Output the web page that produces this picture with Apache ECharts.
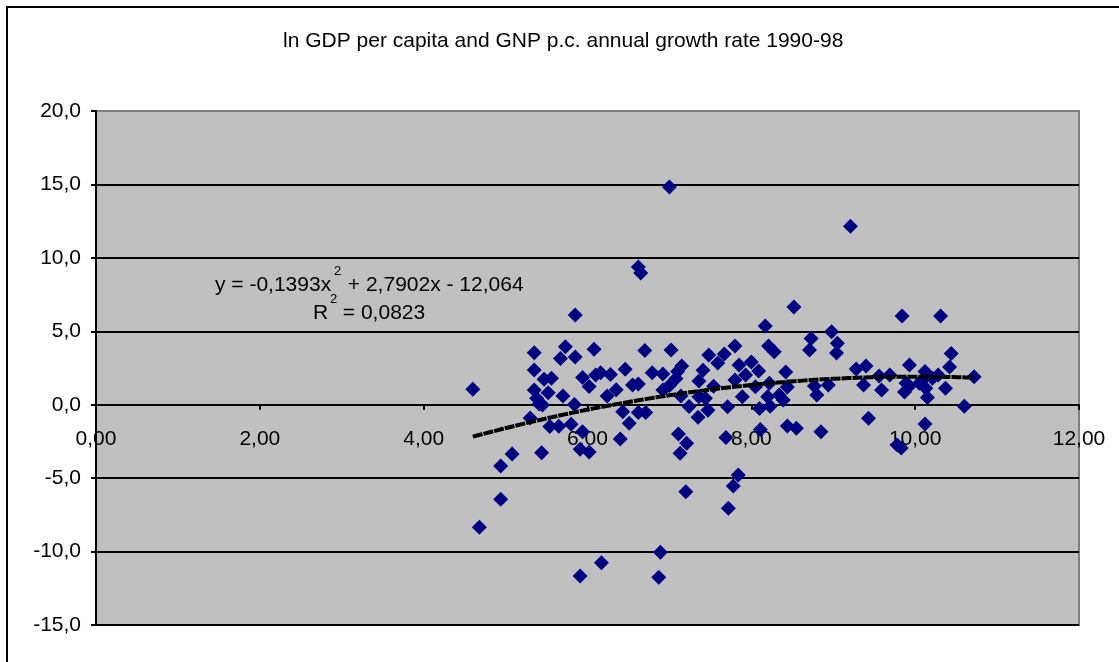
<!DOCTYPE html>
<html>
<head>
<meta charset="utf-8">
<title>ln GDP per capita and GNP p.c. annual growth rate 1990-98</title>
<script src="https://cdn.jsdelivr.net/npm/echarts@6/dist/echarts.min.js"></script>
<style>
  html, body { margin: 0; padding: 0; background: #fff; }
  #main { width: 1119px; height: 662px; }
</style>
</head>
<body>
<div id="main"></div>
<script>
// ln GDP per capita (x) and GNP p.c. annual growth 1990-98 (y)
var lnGdp = [
  4.60, 4.68, 4.94, 4.94, 5.08, 5.44, 5.91, 6.02, 6.40, 5.91,
  6.17, 6.89, 6.87, 7.13, 7.21, 7.20, 7.84, 7.78, 7.72, 7.69,
  7.00, 9.21, 6.62, 6.65, 9.84, 10.31, 8.52, 8.17, 8.98, 8.73,
  9.05, 8.71, 9.04, 8.21, 8.28, 7.80, 7.48, 7.67, 7.59, 7.41,
  7.15, 7.85, 8.00, 8.09, 8.42, 7.93, 7.80, 7.36, 7.54, 8.05,
  8.22, 8.44, 8.34, 8.20, 8.39, 7.89, 8.10, 8.23, 7.71, 7.47,
  7.24, 7.35, 7.14, 8.11, 8.44, 8.55, 8.85, 8.80, 8.77, 8.94,
  9.28, 9.40, 9.37, 9.56, 9.59, 9.69, 9.43, 9.93, 9.87, 9.93,
  10.12, 10.09, 10.28, 10.15, 10.12, 10.44, 10.42, 10.37, 10.72, 10.60,
  9.78, 9.83, 9.89, 10.05, 10.13, 10.21, 5.85, 5.35, 5.73, 5.67,
  5.85, 6.08, 5.35, 5.47, 5.56, 5.35, 5.52, 5.38, 5.45, 5.70,
  5.94, 6.02, 6.10, 5.84, 5.30, 5.54, 5.65, 5.80, 5.94, 5.41,
  6.16, 6.28, 6.46, 6.79, 6.92, 7.10, 7.08, 6.70, 7.02, 6.55,
  6.62, 6.35, 6.24, 6.92, 7.00, 6.43, 6.62, 6.71, 6.51, 7.11,
  7.36, 7.44
];
var growth = [
  1.05, -8.35, -6.44, -4.17, -3.36, -3.27, -3.04, -3.22, -2.33, -11.66,
  -10.76, -10.05, -11.75, -3.31, -2.63, -5.92, -4.79, -5.53, -7.05, -2.23,
  14.82, 12.16, 9.37, 8.97, 6.04, 6.04, 6.65, 5.36, 4.97, 4.51,
  4.18, 3.72, 3.52, 4.00, 3.61, 4.00, 3.38, 3.45, 2.84, 2.34,
  2.63, 2.70, 2.91, 2.29, 2.23, 2.02, 1.68, 1.61, 1.25, 1.23,
  1.46, 1.20, 0.66, 0.54, 0.32, 0.54, -0.25, -0.11, -0.14, -0.38,
  -0.12, -0.86, 0.59, -1.69, -1.45, -1.61, -1.84, 0.66, 1.27, 1.34,
  2.43, 2.63, 1.34, 1.95, 1.00, 2.02, -0.93, 2.70, 0.86, 1.27,
  2.26, 1.68, 2.02, 0.49, -1.31, 3.49, 2.57, 1.12, 1.91, -0.11,
  -2.74, -2.95, 1.46, 1.46, 1.12, 1.80, 6.11, 3.54, 3.95, 3.14,
  3.25, 3.77, 2.36, 1.73, 1.80, 1.00, 0.82, 0.44, -0.02, 0.59,
  1.85, 1.24, 2.02, 0.01, -0.91, -1.48, -1.47, -1.33, -1.84, 0.05,
  2.17, 2.06, 2.41, 2.18, 2.09, 2.26, 1.78, 3.69, 3.72, 1.34,
  1.41, 1.02, 0.59, 1.00, 1.31, -0.48, -0.53, -0.53, -1.27, -1.99,
  0.54, 0.44
];

// polynomial trendline printed on the chart: y = a*x^2 + b*x + c
var trendCoef = [-0.1393, 2.7902, -12.064];
var xTicks = [0, 12, 2];     // min, max, step
var yTicks = [-15, 20, 5];

var points = lnGdp.map(function (x, i) { return [x, growth[i]]; });

var xMin = Math.min.apply(null, lnGdp);
var xMax = Math.max.apply(null, lnGdp);
var trend = [];
for (var k = 0; k <= 120; k++) {
  var x = xMin + (xMax - xMin) * k / 120;
  trend.push([x, trendCoef[0] * x * x + trendCoef[1] * x + trendCoef[2]]);
}

var font = 'Liberation Sans, Arial, sans-serif';
var gridColors = [];
for (var v = yTicks[0]; v <= yTicks[1]; v += yTicks[2]) {
  gridColors.push(v === yTicks[1] ? '#808080' : '#000');
}

var gridTop = 111, gridBottom = 37, chartH = 662;
var plotH = chartH - gridTop - gridBottom;
// lift the x axis from the bottom of the plot up to y = 0
var zeroOffset = -plotH * (0 - yTicks[0]) / (yTicks[1] - yTicks[0]);

var myChart = echarts.init(document.getElementById('main'));
myChart.setOption({
  animation: false,
  backgroundColor: '#fff',
  title: {
    text: 'ln GDP per capita and GNP p.c. annual growth rate 1990-98',
    left: 283,
    top: 31,
    padding: 0,
    textStyle: { fontFamily: font, fontSize: 21, fontWeight: 'normal', color: '#000' }
  },
  grid: {
    left: 96, right: 40, top: gridTop, bottom: gridBottom,
    containLabel: false,
    outerBoundsMode: 'none',
    show: true,
    backgroundColor: '#c0c0c0',
    borderColor: '#808080',
    borderWidth: 2
  },
  xAxis: {
    type: 'value',
    position: 'bottom',
    offset: zeroOffset,
    min: xTicks[0],
    max: xTicks[1],
    interval: xTicks[2],
    axisLine: { show: true, onZero: false, lineStyle: { color: '#000', width: 2 } },
    axisTick: { show: true, length: 5, lineStyle: { color: '#000', width: 2 } },
    splitLine: { show: false },
    axisLabel: {
      margin: 24,
      color: '#000',
      fontFamily: font,
      fontSize: 21,
      formatter: function (val) { return val.toFixed(2).replace('.', ','); }
    }
  },
  yAxis: {
    type: 'value',
    min: yTicks[0],
    max: yTicks[1],
    interval: yTicks[2],
    axisLine: { show: true, lineStyle: { color: '#000', width: 2 } },
    axisTick: { show: true, length: 5, lineStyle: { color: '#000', width: 2 } },
    splitLine: { show: true, lineStyle: { color: gridColors, width: 2 } },
    axisLabel: {
      margin: 15,
      color: '#000',
      fontFamily: font,
      fontSize: 21,
      formatter: function (val) { return val.toFixed(1).replace('.', ','); }
    }
  },
  series: [{
    type: 'scatter',
    symbol: 'diamond',
    symbolSize: 15,
    itemStyle: { color: '#000080', opacity: 1 },
    data: points,
    z: 2
  }, {
    type: 'line',
    data: trend,
    showSymbol: false,
    smooth: false,
    lineStyle: { color: '#000', width: 4, type: [10, 1] },
    z: 3
  }],
  graphic: [
    // outer chart border
    { type: 'rect', silent: true, z: 100,
      shape: { x: 7, y: 7, width: 1200, height: 800 },
      style: { fill: 'transparent', stroke: '#000', lineWidth: 2 } },
    // trendline equation and R squared
    { type: 'text', x: 215, y: 285, z: 100,
      style: { text: 'y = -0,1393x', font: '21px ' + font, fill: '#000', verticalAlign: 'middle' } },
    { type: 'text', x: 334, y: 271, z: 100,
      style: { text: '2', font: '13px ' + font, fill: '#000', verticalAlign: 'middle' } },
    { type: 'text', x: 342, y: 285, z: 100,
      style: { text: ' + 2,7902x - 12,064', font: '21px ' + font, fill: '#000', verticalAlign: 'middle' } },
    { type: 'text', x: 313, y: 313, z: 100,
      style: { text: 'R', font: '21px ' + font, fill: '#000', verticalAlign: 'middle' } },
    { type: 'text', x: 330, y: 299, z: 100,
      style: { text: '2', font: '13px ' + font, fill: '#000', verticalAlign: 'middle' } },
    { type: 'text', x: 337, y: 313, z: 100,
      style: { text: ' = 0,0823', font: '21px ' + font, fill: '#000', verticalAlign: 'middle' } }
  ]
});
window.addEventListener('resize', function () {
  myChart.resize();
});
</script>
</body>
</html>
